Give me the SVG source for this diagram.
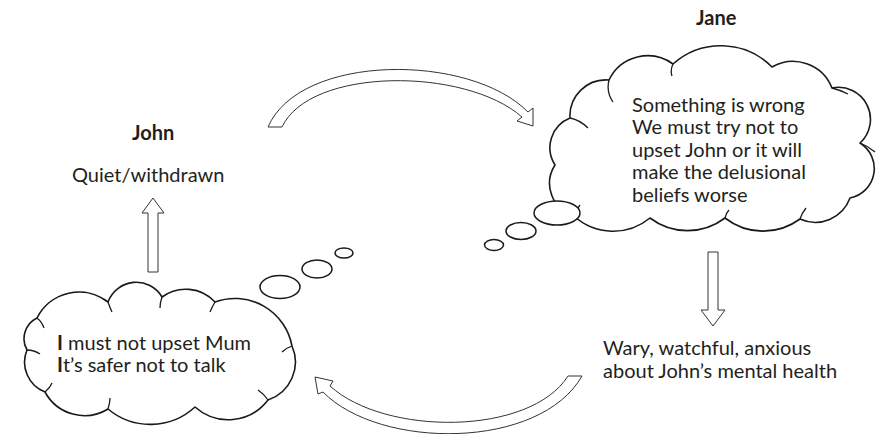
<svg xmlns="http://www.w3.org/2000/svg" width="877" height="434" viewBox="0 0 877 434">
<style>
.t{font-family:Lato,"Open Sans","Liberation Sans",sans-serif;font-size:20px;fill:#231f20}
.b{font-weight:bold}
.cloud{fill:#fff;stroke:#1a1a1a;stroke-width:1.6;stroke-linejoin:round}
.tail{fill:none;stroke:#1a1a1a;stroke-width:1.3}
.bub{fill:#fff;stroke:#1a1a1a;stroke-width:1.5}
.arr{fill:#fff;stroke:#333;stroke-width:1;stroke-linejoin:miter}
</style>
<rect width="877" height="434" fill="#fff"/>

<g id="jane-label"><text class="t b" x="696" y="25">Jane</text></g>

<g id="jane-cloud">
<path class="cloud" d="M574,216 A34,34 0 0 1 555,165 A32,32 0 0 1 570,118 A36,36 0 0 1 609,80 A43,43 0 0 1 673,64 A72,72 0 0 1 772,67 A42,42 0 0 1 832,88 A32,32 0 0 1 860,143 A30,30 0 0 1 850,198 A37,37 0 0 1 800,219 A62,62 0 0 1 725,218 A62,62 0 0 1 650,218 A58,58 0 0 1 574,216 Z"/>
<path class="tail" d="M609,80 Q606,92 613,102 M673,64 Q670,70 672,76 M570,118 Q580,120 588,128 M832,88 Q840,90 848,94 M860,143 Q868,146 875,152 M800,219 Q802,213 806,208 M725,218 Q726,213 729,210 M574,216 Q576,210 580,205"/>
<text class="t" x="632" y="111.5">Something is wrong</text>
<text class="t" x="632" y="134">We must try not to</text>
<text class="t" x="632" y="156.5">upset John or it will</text>
<text class="t" x="632" y="179">make the delusional</text>
<text class="t" x="632" y="201.5">beliefs worse</text>
</g>

<g id="jane-bubbles">
<ellipse class="bub" cx="557" cy="213" rx="23" ry="12"/>
<ellipse class="bub" cx="521" cy="231" rx="15" ry="8.5"/>
<ellipse class="bub" cx="494" cy="245" rx="9.5" ry="5.5"/>
</g>

<g id="jane-behaviour">
<text class="t" x="603" y="355">Wary, watchful, anxious</text>
<text class="t" x="603" y="378">about John’s mental health</text>
</g>

<g id="john-label"><text class="t b" x="132" y="140">John</text></g>
<g id="john-behaviour"><text class="t" x="72" y="182">Quiet/withdrawn</text></g>

<g id="john-cloud">
<path class="cloud" d="M37,318 A47,47 0 0 1 108,302 A30,30 0 0 1 162,297 A40,40 0 0 1 215,302 A58,58 0 0 1 292,346 A40,40 0 0 1 268,400 A50,50 0 0 1 195,407 A66,66 0 0 1 108,409 A45,45 0 0 1 45,392 A32,32 0 0 1 27,350 A23,23 0 0 1 37,318 Z"/>
<path class="tail" d="M108,302 Q110,308 112,312 M162,297 Q160,303 160,308 M215,302 Q212,307 210,312 M292,346 Q286,348 282,352 M268,400 Q264,394 258,390 M108,409 Q110,403 110,398 M45,392 Q50,388 52,383 M27,350 Q34,350 40,354 M37,318 Q42,322 44,328"/>
<text class="t" x="57" y="350"><tspan class="b">I</tspan> must not upset Mum</text>
<text class="t" x="57" y="372"><tspan class="b">I</tspan>t’s safer not to talk</text>
</g>

<g id="john-bubbles">
<ellipse class="bub" cx="280" cy="287" rx="20" ry="11.5"/>
<ellipse class="bub" cx="317" cy="269" rx="15" ry="9"/>
<ellipse class="bub" cx="344" cy="253" rx="9" ry="5"/>
</g>

<g id="connectors">
<path class="arr" d="M268,127 C300,53 470,53 528,112 L533,108 L533,126 L517,121 L522,117 C465,67 310,67 282,127 Z"/>
<path class="arr" d="M582,376 C540,450 380,450 323,392 L318,394 L315,377 L333,381 L330,386 C385,436 530,436 568,376 Z"/>
<path class="arr" d="M148,272 L148,213 L142,213 L153,198 L164,213 L158,213 L158,272 Z"/>
<path class="arr" d="M708,252 L718,252 L718,310 L725,310 L713,326 L701,310 L708,310 Z"/>
</g>
</svg>
